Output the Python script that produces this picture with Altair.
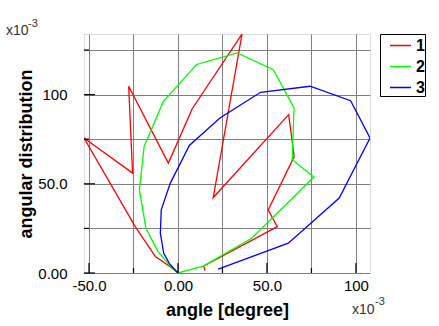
import altair as alt
import pandas as pd

# ---- data (values in units of 1e-3) ----
red_x = [0, -4.3, -12.7, -24.0, -52.8, -25.5, -27.7, -5.4, 8.0, 36.0, 19.8, 62.2, 65.3, 50.7, 55.8, 14.5, 15.2]
red_y = [0, 3.5, 9.2, 26.0, 75.7, 56.0, 104.7, 61.6, 92.1, 134.0, 42.3, 88.8, 65.3, 35.4, 26.0, 3.9, 1.3]

green_x = [0, -5.6, -11.2, -18.0, -21.7, -19.0, -8.2, 10.5, 33.3, 53.6, 65.2, 64.2, 76.4, 41.4, 14.2, 0]
green_y = [0, 5.4, 12.0, 25.1, 46.6, 71.0, 96.2, 116.9, 123.4, 114.0, 92.5, 63.5, 53.8, 19.5, 3.9, 0]

blue_x = [0, -4.9, -8.0, -9.9, -9.4, -4.3, 6.4, 23.6, 46.4, 74.2, 97.0, 107.9, 90.6, 62.0, 22.6]
blue_y = [0, 5.4, 11.0, 22.3, 35.4, 50.4, 71.5, 86.9, 101.3, 104.7, 96.6, 75.7, 42.0, 16.7, 2.2]

series_names = ["1", "2", "3"]
series_colors = ["#ff0000", "#00ff00", "#0000ff"]

x_grid = [-50, -25, 0, 25, 50, 75, 100]
y_grid = [0, 25, 50, 75, 100, 125]
x_major = [-50, 0, 50, 100]
x_minor = [-25, 25, 75]
y_major = [0, 50, 100]
y_minor = [25, 75, 125]

X_DOMAIN = [-52.8, 107.9]
Y_DOMAIN = [0, 134]
W, H = 286, 239
FONT = "Liberation Sans Narrow, Liberation Sans, Arial, sans-serif"
BOLD = "Liberation Sans, Arial, sans-serif"

rows = []
for name, xs, ys in zip(series_names, [red_x, green_x, blue_x], [red_y, green_y, blue_y]):
    for i, (a, b) in enumerate(zip(xs, ys)):
        rows.append({"series": name, "idx": i, "x": a, "y": b})
df = pd.DataFrame(rows)

xs = alt.Scale(domain=X_DOMAIN, nice=False, zero=False)
ys = alt.Scale(domain=Y_DOMAIN, nice=False, zero=False)

label_expr = ("datum.value == 0 ? '0.00' : datum.value == 100 ? '100' : "
              "(datum.value % 50 == 0 ? (datum.value < 0 ? '-' : '') + format(abs(datum.value), '.1f') : '')")

lines = alt.Chart(df).mark_line(strokeWidth=1.3, clip=True).encode(
    x=alt.X("x:Q", scale=xs, axis=alt.Axis(
        values=x_grid, title="angle [degree]", labelExpr=label_expr,
        grid=True, gridColor="#808080", gridOpacity=1, gridWidth=1,
        ticks=False, tickSize=0, domain=False, labelPadding=5,
        labelFont=FONT, labelFontSize=15, labelColor="#000",
        titleFont=BOLD, titleFontSize=18, titleFontWeight="bold", titleColor="#000",
        titlePadding=8)),
    y=alt.Y("y:Q", scale=ys, axis=alt.Axis(
        values=y_grid, title="angular distribution", labelExpr=label_expr,
        grid=True, gridColor="#808080", gridOpacity=1, gridWidth=1,
        ticks=False, tickSize=0, domain=False, labelPadding=17,
        labelFont=FONT, labelFontSize=15, labelColor="#000",
        titleFont=BOLD, titleFontSize=18, titleFontWeight="bold", titleColor="#000",
        titlePadding=2)),
    color=alt.Color("series:N", scale=alt.Scale(domain=series_names, range=series_colors),
                    legend=alt.Legend(title=None, orient="none", legendX=296, legendY=0,
                                      symbolType="stroke", symbolSize=441, symbolStrokeWidth=1.5,
                                      symbolOffset=9, labelOffset=4, padding=0, rowPadding=1,
                                      strokeColor="#000", labelFont=BOLD, labelFontSize=16,
                                      labelFontWeight="bold", labelColor="#000")),
    order="idx:Q",
)

xt_major = alt.Chart(pd.DataFrame({"v": x_major})).mark_rule(color="#000", strokeWidth=1.2).encode(
    x=alt.X("v:Q", scale=xs), y=alt.value(H), y2=alt.value(H - 10))
xt_minor = alt.Chart(pd.DataFrame({"v": x_minor})).mark_rule(color="#000", strokeWidth=1.2).encode(
    x=alt.X("v:Q", scale=xs), y=alt.value(H), y2=alt.value(H - 5))
yt_major = alt.Chart(pd.DataFrame({"v": y_major})).mark_rule(color="#000", strokeWidth=1.2).encode(
    y=alt.Y("v:Q", scale=ys), x=alt.value(0), x2=alt.value(11))
yt_minor = alt.Chart(pd.DataFrame({"v": y_minor})).mark_rule(color="#000", strokeWidth=1.2).encode(
    y=alt.Y("v:Q", scale=ys), x=alt.value(0), x2=alt.value(5))

exp_df = pd.DataFrame({"t": ["x10"]})
sup_df = pd.DataFrame({"t": ["-3"]})
tl_base = alt.Chart(exp_df).mark_text(align="left", baseline="alphabetic", font=FONT, fontSize=14, color="#333").encode(
    text="t:N", x=alt.value(-78), y=alt.value(1))
tl_sup = alt.Chart(sup_df).mark_text(align="left", baseline="alphabetic", font=FONT, fontSize=11, color="#333").encode(
    text="t:N", x=alt.value(-56), y=alt.value(-7))
br_base = alt.Chart(exp_df).mark_text(align="left", baseline="alphabetic", font=FONT, fontSize=14, color="#333").encode(
    text="t:N", x=alt.value(268), y=alt.value(280))
br_sup = alt.Chart(sup_df).mark_text(align="left", baseline="alphabetic", font=FONT, fontSize=11, color="#333").encode(
    text="t:N", x=alt.value(291), y=alt.value(271))

chart = alt.layer(
    lines, xt_major, xt_minor, yt_major, yt_minor, tl_base, tl_sup, br_base, br_sup
).properties(
    width=W, height=H,
    autosize=alt.AutoSizeParams(type="none"),
    padding={"left": 84, "top": 34, "right": 69, "bottom": 53},
).configure_view(stroke="#000", strokeWidth=1.5).configure(background="#ffffff")

chart.save("out.html", embed_options={"renderer": "svg", "actions": False})
